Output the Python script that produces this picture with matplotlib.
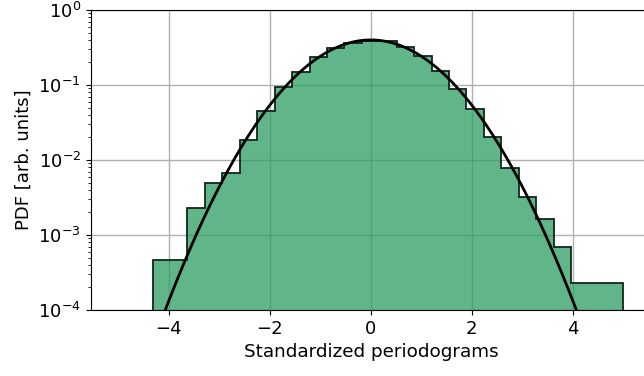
import numpy as np
import matplotlib
matplotlib.use("Agg")
import matplotlib.pyplot as plt

# histogram: 27 equal bins, density values
bin_start = -4.323
bin_width = 0.3454
n_bins = 27
density = [4.71e-4, 4.71e-4, 2.31e-3, 4.89e-3, 6.71e-3, 1.85e-2, 4.46e-2,
           9.49e-2, 0.149, 0.238, 0.314, 0.363, 0.392, 0.386, 0.324, 0.246,
           0.154, 8.85e-2, 4.79e-2, 2.03e-2, 7.82e-3, 3.24e-3, 1.62e-3,
           6.98e-4, 2.31e-4, 2.31e-4, 2.31e-4]

edges = bin_start + bin_width * np.arange(n_bins + 1)
centers = 0.5 * (edges[:-1] + edges[1:])

x = np.linspace(-6, 6, 600)
gauss = np.exp(-x**2 / 2) / np.sqrt(2 * np.pi)

fig = plt.figure(figsize=(6.44, 3.76), dpi=100)
ax = fig.add_axes([0.1408, 0.1755, 0.870, 0.7979])

ax.hist(centers, bins=edges, weights=density, histtype='stepfilled',
        facecolor=(0.17, 0.61, 0.385, 0.75), edgecolor='#12261b', linewidth=1.3)
ax.plot(x, gauss, color='k', lw=2)

ax.set_yscale('log')
ax.set_ylim(1e-4, 1)
ax.set_xlim(-5.55, 5.55)
ax.set_xticks([-4, -2, 0, 2, 4])
ax.grid(True, which='major', color='#b0b0b0', lw=1)
ax.set_axisbelow(True)
ax.tick_params(labelsize=13)
ax.set_xlabel('Standardized periodograms', fontsize=13.2)
ax.set_ylabel('PDF [arb. units]', fontsize=13)

fig.savefig('out.png', dpi=100)
